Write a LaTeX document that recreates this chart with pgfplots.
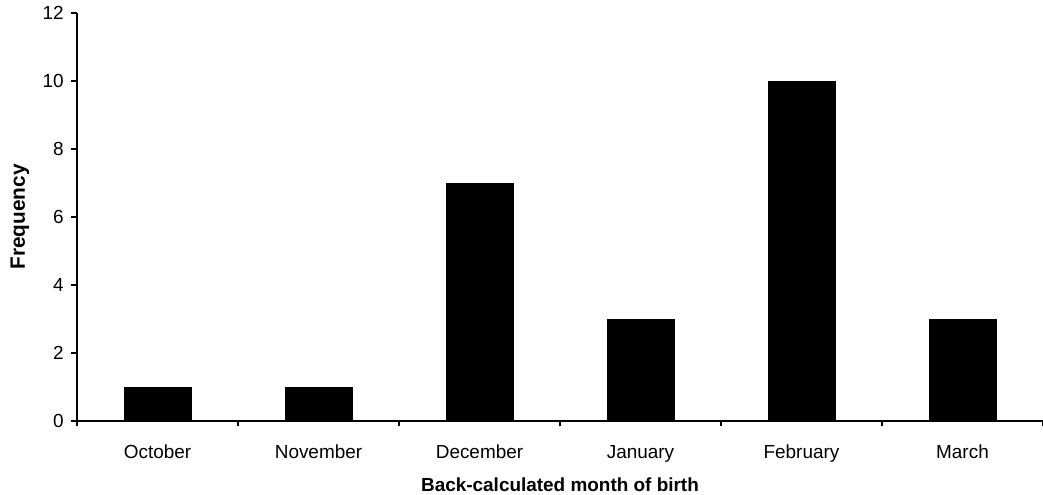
\documentclass[border=0pt]{standalone}
\usepackage{fontspec}
\setmainfont{Liberation Sans}
\usepackage{pgfplots}
\pgfplotsset{compat=1.18}
\begin{document}
\begin{tikzpicture}
\useasboundingbox (0,0) rectangle (782.25pt,370.5pt);
\begin{axis}[
  at={(57.75pt,54.75pt)}, anchor=south west,
  scale only axis, width=724.5pt, height=306pt,
  xmin=-0.5, xmax=5.5, ymin=0, ymax=12,
  axis x line*=bottom, axis y line*=left,
  axis line style={line width=0.9pt, -},
  ytick={0,2,...,12},
  xtick={0,...,5},
  xticklabels={October,November,December,January,February,March},
  minor xtick={-0.5,0.5,...,5.5},
  tick align=outside,
  major x tick style={draw=none},
  every tick/.style={black, line width=0.9pt},
  major tick length=4.5pt,
  minor tick length=4pt,
  /pgf/number format/assume math mode=true,
  ticklabel style={font=\fontsize{14.2}{16}\selectfont},
  xticklabel style={yshift=-10pt},
  yticklabel style={xshift=-2pt},
  xlabel={\bfseries Back-calculated month of birth},
  ylabel={\bfseries Frequency},
  xlabel style={font=\fontsize{14.2}{16}\selectfont, at={(axis description cs:0.5,0)}, anchor=center, yshift=-48pt},
  ylabel style={font=\fontsize{15.6}{18}\selectfont, at={(axis description cs:0,0.5)}, anchor=center, rotate=0, yshift=42.75pt},
  ybar, bar width=50.25pt,
]
\addplot[fill=black, draw=black] coordinates {(0,1) (1,1) (2,7) (3,3) (4,10) (5,3)};
\end{axis}
\end{tikzpicture}
\end{document}
